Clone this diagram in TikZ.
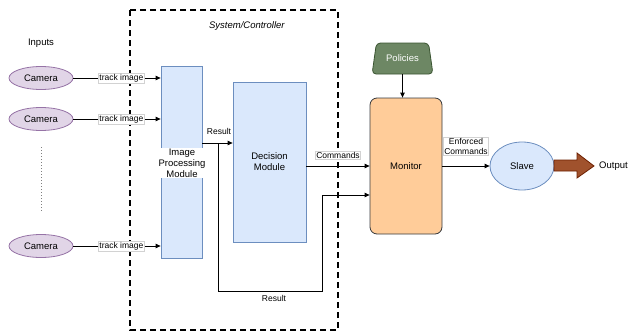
\documentclass[tikz,border=0pt]{standalone}
\usepackage{fontspec}
\setmainfont{Liberation Sans}
\usetikzlibrary{arrows.meta,shapes.geometric}
\definecolor{camfill}{HTML}{E1D5E7}
\definecolor{camdraw}{HTML}{9673A6}
\definecolor{bluefill}{HTML}{DAE8FC}
\definecolor{bluedraw}{HTML}{6C8EBF}
\definecolor{monfill}{HTML}{FFCC99}
\definecolor{mondraw}{HTML}{36393D}
\definecolor{polfill}{HTML}{6D8764}
\definecolor{poldraw}{HTML}{3A5431}
\definecolor{arrfill}{HTML}{A0522D}
\definecolor{arrdraw}{HTML}{6D1F00}
\begin{document}
\begin{tikzpicture}[x=1pt,y=-1pt,
  every node/.style={font=\fontsize{9.5}{11}\selectfont, inner sep=1pt},
  cam/.style={ellipse, draw=camdraw, fill=camfill, line width=0.8pt, minimum width=64pt, minimum height=23pt},
  module/.style={rectangle, draw=bluedraw, fill=bluefill, line width=0.8pt},
  conn/.style={draw=black, line width=0.8pt, -{Triangle[length=5pt,width=4.5pt]}},
  elabel/.style={font=\fontsize{8.5}{10}\selectfont, fill=white, draw=gray!35, line width=0.4pt, inner sep=0.8pt},
  plabel/.style={font=\fontsize{8.5}{10}\selectfont, inner sep=1pt},
  txtbg/.style={fill=white, inner sep=0.5pt}
]
\useasboundingbox (0,0) rectangle (631,332);
% system box
\draw[line width=2.2pt, dash pattern=on 6pt off 4pt] (130,10) rectangle (338,330);
\node at (247,26) {\textit{System/Controller}};
\node at (41,43) {Inputs};
% cameras
\node[cam] (c1) at (41,78) {Camera};
\node[cam] (c2) at (41,119) {Camera};
\node[cam] (c3) at (41,246) {Camera};
\draw[gray, line width=1pt, dotted] (41,147) -- (41,211);
% modules
\node[module, minimum width=41pt, minimum height=192pt] (ipm) at (181.5,162) {};
\node[txtbg, align=center] at (182,163) {Image\\Processing\\Module};
\node[module, minimum width=73pt, minimum height=160pt, align=center] (dm) at (269.5,162) {Decision\\Module};
% monitor
\node[rectangle, rounded corners=7pt, draw=mondraw, fill=monfill, line width=0.8pt, minimum width=72pt, minimum height=136pt] (mon) at (406,166) {Monitor};
% policies
\node[trapezium, trapezium angle=72, trapezium stretches=true, rounded corners=4pt, draw=poldraw, fill=polfill, text=white, line width=0.8pt, minimum width=61pt, minimum height=31pt] (pol) at (402.5,58.5) {Policies};
% slave
\node[ellipse, draw=bluedraw, fill=bluefill, line width=0.8pt, minimum width=64pt, minimum height=48pt] (slave) at (522,166) {Slave};
% block arrow
\draw[arrdraw, fill=arrfill, line width=0.8pt] (554,160) -- (577,160) -- (577,153) -- (594,166) -- (577,178) -- (577,171) -- (554,171) -- cycle;
\node[anchor=west] (out) at (598,166) {Output};
% camera arrows
\draw[conn] (c1.east) -- (ipm.west |- c1.east) node[elabel, pos=0.55] {track image};
\draw[conn] (c2.east) -- (ipm.west |- c2.east) node[elabel, pos=0.55] {track image};
\draw[conn] (c3.east) -- (ipm.west |- c3.east) node[elabel, pos=0.55] {track image};
% result
\coordinate (rs) at (ipm.east |- 0,143);
\coordinate (rb) at (218,143);
\draw[conn] (rs) -- (dm.west |- rs);
\node[plabel] at (219,131) {Result};
\coordinate (r1) at (218,291);
\coordinate (r2) at (322,291);
\coordinate (r3) at (322,195);
\draw[conn] (rb) -- (r1) -- (r2) -- (r3) -- (mon.west |- r3);
\node[plabel] at (274,298) {Result};
% commands
\draw[conn] (dm.east |- 0,166) -- (mon.west |- 0,166);
\node[elabel] at (338,155) {Commands};
% policies to monitor
\draw[conn] (pol.bottom side) -- (mon.north -| pol.bottom side);
% enforced
\draw[conn] (mon.east) -- (slave.west);
\node[elabel, align=center] at (466,146) {Enforced\\Commands};
\end{tikzpicture}
\end{document}
